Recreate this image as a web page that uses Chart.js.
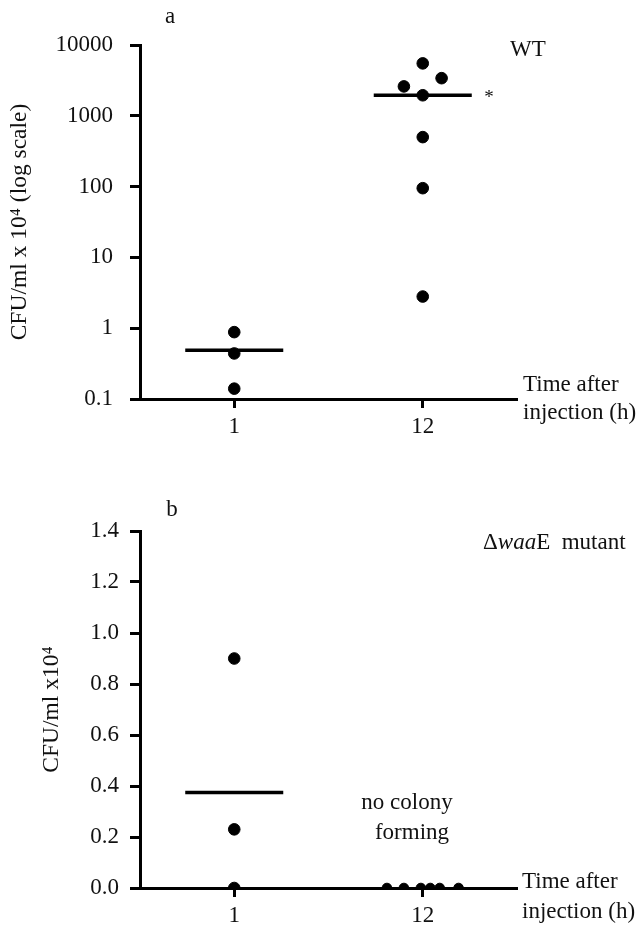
<!DOCTYPE html>
<html>
<head>
<meta charset="utf-8">
<script src="https://cdn.jsdelivr.net/npm/chart.js@4"></script>
<style>
  body { margin: 0; background: #fff; }
  .panel { position: absolute; left: 0; }
</style>
</head>
<body>
<div class="panel" style="top:0"><canvas id="wtChart" width="640" height="460"></canvas></div>
<div class="panel" style="top:460px"><canvas id="mutChart" width="640" height="471"></canvas></div>
<script>
// time points (h)
const categories = ["1", "12"];

// panel a - WT, CFU/ml x 10^4
const wtHour1 = [0.88, 0.44, 0.14];
const wtHour12 = [5500, 3400, 2600, 1950, 500, 95, 2.8];
const wtMedians = [0.49, 1950];
const wtTicks = [0.1, 1, 10, 100, 1000, 10000];

// panel b - waaE mutant, CFU/ml x 10^4
const mutHour1 = [0.9, 0.23, 0];
const mutHour12 = [0, 0, 0, 0, 0, 0];
const mutMedians = [0.375];

// horizontal spread of overlapping dots
const wtJitter12 = [0, 0.1, -0.1, 0, 0, 0, 0];
const mutJitter12 = [-0.19, -0.1, -0.01, 0.04, 0.09, 0.19];

const FONT = "'Liberation Serif', 'Times New Roman', serif";
const TICK_SIZE = 23;
const TEXT_SIZE = 23;
const MEDIAN_HALF = 0.26;

Chart.defaults.font.family = FONT;
Chart.defaults.color = "#111";

function toPoints(values, xIndex, jitter) {
  return values.map((v, i) => ({ x: xIndex + (jitter ? jitter[i] : 0), y: v }));
}

function medianSet(m, xIndex) {
  return {
    type: "line",
    data: [{ x: xIndex - MEDIAN_HALF, y: m }, { x: xIndex + MEDIAN_HALF, y: m }],
    borderColor: "#000",
    borderWidth: 3.5,
    pointRadius: 0,
    showLine: true,
  };
}

function dotSet(points, r) {
  return {
    data: points,
    backgroundColor: "#000",
    borderColor: "#000",
    pointRadius: r || 5.8,
    pointHoverRadius: r || 5.8,
  };
}

const axisGrid = {
  display: true,
  drawOnChartArea: false,
  drawTicks: true,
  tickLength: 9,
  tickWidth: 3,
  tickColor: "#000",
};
const axisBorder = { display: true, width: 3, color: "#000" };

function xScale(height) {
  return {
    type: "linear",
    min: -0.5,
    max: 1.5,
    grid: axisGrid,
    border: axisBorder,
    ticks: {
      font: { size: TICK_SIZE },
      color: "#111",
      padding: 5,
      maxRotation: 0,
      callback: (v) => categories[v],
    },
    afterBuildTicks: (scale) => {
      scale.ticks = categories.map((c, i) => ({ value: i }));
    },
    afterFit: (scale) => {
      scale.height = height;
    },
  };
}

// text labels drawn onto each panel
function textPlugin(items) {
  return {
    id: "texts",
    afterDraw(chart) {
      const ctx = chart.ctx;
      ctx.save();
      ctx.fillStyle = "#111";
      ctx.textBaseline = "middle";
      items.forEach((t) => {
        let x = t.x;
        ctx.textAlign = t.align || "left";
        (t.parts || [{ text: t.text }]).forEach((p) => {
          ctx.font = (p.italic ? "italic " : "") + (t.size || TEXT_SIZE) + "px " + FONT;
          ctx.fillText(p.text, x, t.y);
          x += ctx.measureText(p.text).width;
        });
      });
      ctx.restore();
    },
  };
}

const wtChart = new Chart(document.getElementById("wtChart"), {
  type: "scatter",
  data: {
    datasets: [
      medianSet(wtMedians[0], 0),
      medianSet(wtMedians[1], 1),
      dotSet(toPoints(wtHour1, 0)),
      dotSet(toPoints(wtHour12, 1, wtJitter12)),
    ],
  },
  options: {
    responsive: false,
    animation: false,
    layout: { padding: { top: 45, right: 123, left: 0, bottom: 0 } },
    plugins: { legend: { display: false }, tooltip: { enabled: false } },
    scales: {
      x: xScale(61),
      y: {
        type: "logarithmic",
        min: 0.1,
        max: 10000,
        grid: { ...axisGrid, tickLength: 10 },
        border: axisBorder,
        ticks: {
          font: { size: TICK_SIZE },
          color: "#111",
          padding: 17,
          callback: (v) => String(v),
        },
        afterBuildTicks: (scale) => {
          scale.ticks = wtTicks.map((v) => ({ value: v }));
        },
        afterFit: (scale) => {
          scale.width = 140;
        },
        title: {
          display: true,
          text: "CFU/ml x 10\u2074 (log scale)",
          font: { size: 23.5 },
          color: "#111",
          padding: { top: 6, bottom: 0 },
        },
      },
    },
  },
  plugins: [
    textPlugin([
      { text: "a", x: 170, y: 17, align: "center" },
      { text: "WT", x: 528, y: 50, align: "center" },
      { text: "*", x: 489, y: 98, align: "center", size: 19 },
      { text: "Time after", x: 523, y: 385 },
      { text: "injection (h)", x: 523, y: 413 },
    ]),
  ],
});

const mutChart = new Chart(document.getElementById("mutChart"), {
  type: "scatter",
  data: {
    datasets: [
      medianSet(mutMedians[0], 0),
      dotSet(toPoints(mutHour1, 0)),
      dotSet(toPoints(mutHour12, 1, mutJitter12), 4.8),
    ],
  },
  options: {
    responsive: false,
    animation: false,
    layout: { padding: { top: 71, right: 123, left: 0, bottom: 0 } },
    plugins: { legend: { display: false }, tooltip: { enabled: false } },
    scales: {
      x: xScale(43),
      y: {
        type: "linear",
        min: 0,
        max: 1.4,
        grid: { ...axisGrid, tickLength: 10 },
        border: axisBorder,
        ticks: {
          stepSize: 0.2,
          font: { size: TICK_SIZE },
          color: "#111",
          padding: 11,
          callback: (v) => v.toFixed(1),
        },
        afterFit: (scale) => {
          scale.width = 140;
        },
        title: {
          display: true,
          text: "CFU/ml x10\u2074",
          font: { size: 23.5 },
          color: "#111",
          padding: { top: 38, bottom: 0 },
        },
      },
    },
  },
  plugins: [
    textPlugin([
      { text: "b", x: 172, y: 50, align: "center" },
      { x: 483, y: 83, parts: [{ text: "\u0394" }, { text: "waa", italic: true }, { text: "E  mutant" }] },
      { text: "no colony", x: 407, y: 343, align: "center" },
      { text: "forming", x: 412, y: 373, align: "center" },
      { text: "Time after", x: 522, y: 422 },
      { text: "injection (h)", x: 522, y: 452 },
    ]),
  ],
});
</script>
</body>
</html>
